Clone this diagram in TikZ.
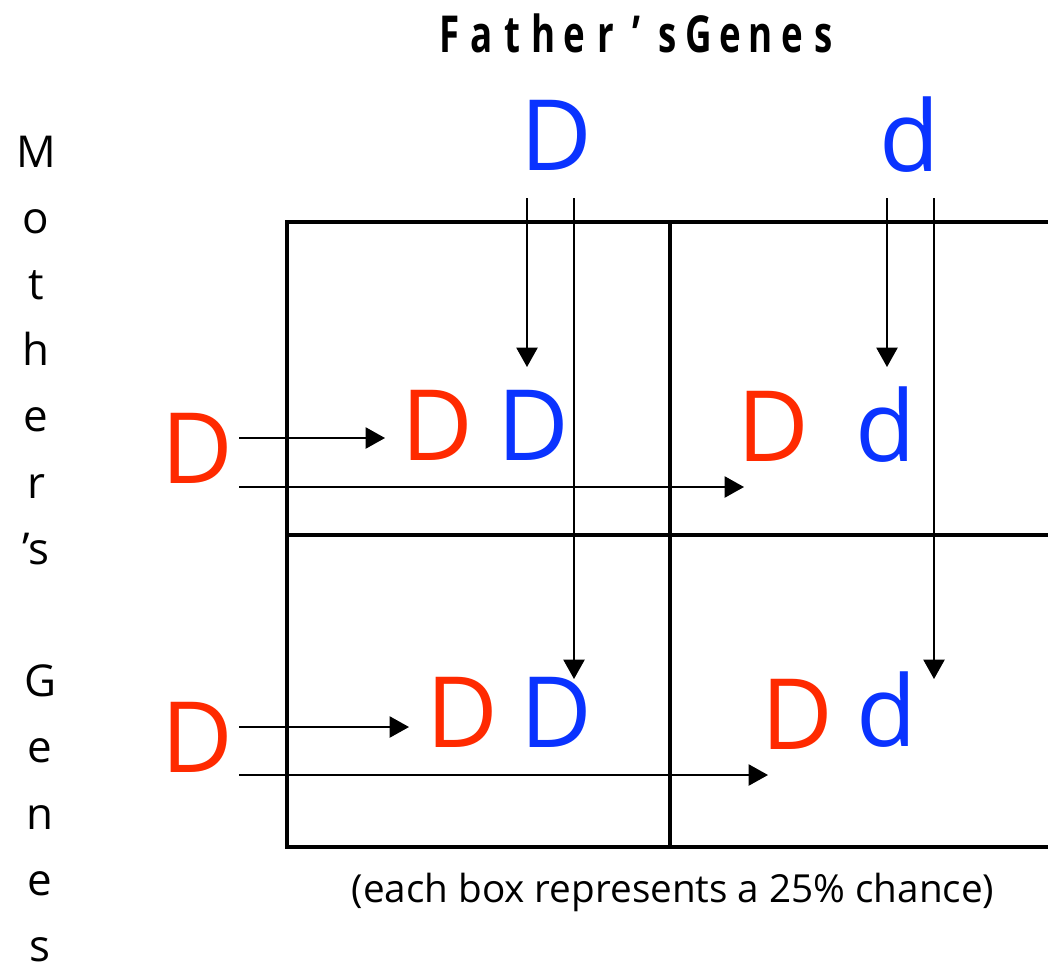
\documentclass[tikz,border=0pt]{standalone}
\usepackage{fontspec}
\setmainfont{Open Sans}
\usetikzlibrary{arrows.meta}
\definecolor{momred}{HTML}{FF2A00}
\definecolor{dadblue}{HTML}{0A33FF}
\tikzset{
	gene/.style={inner sep=0pt, font=\fontsize{56}{56}\selectfont},
	arr/.style={line width=1.1pt, -{Triangle[length=11pt,width=12pt]}},
	gridline/.style={line width=2.8pt},
	vletter/.style={anchor=base, inner sep=0pt, font=\fontsize{25}{25}\selectfont},
	tletter/.style={anchor=base, inner sep=0pt, font=\fontsize{29}{29}\selectfont\bfseries},
}

\begin{document}
\begin{tikzpicture}[x=0.02cm, y=-0.02cm]
		%%%%% START %%%%%
		\useasboundingbox (0, 0) rectangle (1048, 971);
		
		% title
		\foreach \ch [count=\i from 0] in {F,a,t,h,e,r,’,s,G,e,n,e,s}
			\node[tletter] (t\i) at (450+\i*31.1, 52) {\scalebox{0.72}[1]{\ch}};
		
		% mother's genes, down the side
		\foreach \ch [count=\i from 0] in {M,o,t,h,e,r,’s}
			\node[vletter] (m\i) at (36, 167+\i*66.2) {\ch};
		\foreach \ch [count=\i from 8] in {G,e,n,e,s}
			\node[vletter] (m\i) at (40, 167+\i*66.2) {\ch};
		
		% the square
		\draw[gridline] (287, 222) rectangle (1053, 847);
		\draw[gridline] (670, 222) -- (670, 847);
		\draw[gridline] (287, 535) -- (1053, 535);
		
		% parents
		\node[gene, text=dadblue] (dadD) at (556, 135) {D};
		\node[gene, text=dadblue] (dadd) at (910, 135) {d};
		\node[gene, text=momred] (momA) at (197, 448) {D};
		\node[gene, text=momred] (momB) at (197, 737) {D};
		
		% children
		\node[gene, text=momred] (c11m) at (437, 425) {D};
		\node[gene, text=dadblue] (c11f) at (533, 425) {D};
		\node[gene, text=momred] (c12m) at (773, 426) {D};
		\node[gene, text=dadblue] (c12f) at (886, 425) {d};
		\node[gene, text=momred] (c21m) at (462, 712) {D};
		\node[gene, text=dadblue] (c21f) at (556, 712) {D};
		\node[gene, text=momred] (c22m) at (797, 714) {D};
		\node[gene, text=dadblue] (c22f) at (887, 710) {d};
		
		% arrow ends
		\coordinate (dD1) at (527, 198);
		\coordinate (dD1e) at (527, 367);
		\coordinate (dD2) at (574, 198);
		\coordinate (dD2e) at (574, 679);
		\coordinate (dd1) at (887, 198);
		\coordinate (dd1e) at (887, 367);
		\coordinate (dd2) at (934, 198);
		\coordinate (dd2e) at (934, 679);
		\coordinate (mA1) at (239, 438);
		\coordinate (mA1e) at (385, 438);
		\coordinate (mA2) at (239, 487);
		\coordinate (mA2e) at (744, 487);
		\coordinate (mB1) at (239, 727);
		\coordinate (mB1e) at (409, 727);
		\coordinate (mB2) at (239, 775);
		\coordinate (mB2e) at (768, 775);
		
		\draw[arr] (dD1) -- (dD1e);
		\draw[arr] (dD2) -- (dD2e);
		\draw[arr] (dd1) -- (dd1e);
		\draw[arr] (dd2) -- (dd2e);
		\draw[arr] (mA1) -- (mA1e);
		\draw[arr] (mA2) -- (mA2e);
		\draw[arr] (mB1) -- (mB1e);
		\draw[arr] (mB2) -- (mB2e);
		
		\node[font=\fontsize{22}{22}\selectfont, inner sep=0pt] (note) at (673, 892) {(each box represents a 25\% chance)};
		
		%%%%% END %%%%%
	\end{tikzpicture}
\end{document}
